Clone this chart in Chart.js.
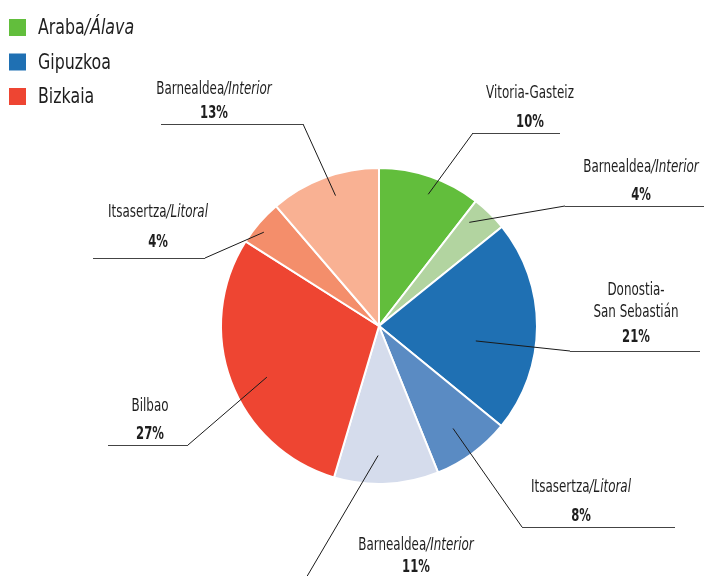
<!DOCTYPE html>
<html>
<head>
<meta charset="utf-8">
<script src="https://cdn.jsdelivr.net/npm/chart.js@4.4.0/dist/chart.umd.min.js"></script>
<style>
  html, body { margin: 0; padding: 0; background: #fff; }
  #wrap { width: 704px; height: 576px; position: relative; }
</style>
</head>
<body>
<div id="wrap"><canvas id="pie"></canvas></div>
<script>
// slices, clockwise from 12 o'clock
const categories = ['Vitoria-Gasteiz', 'Barnealdea/Interior', 'Donostia-San Sebastián', 'Itsasertza/Litoral',
                    'Barnealdea/Interior', 'Bilbao', 'Itsasertza/Litoral', 'Barnealdea/Interior'];
const shares = [10.5, 3.7, 21.7, 8.0, 10.7, 29.4, 4.7, 11.3];
const pctLabels = ['10%', '4%', '21%', '8%', '11%', '27%', '4%', '13%'];
const provinces = ['Araba/Álava', 'Gipuzkoa', 'Bizkaia'];

const sliceColors = ['#62be3c', '#b2d4a0', '#1f70b3', '#5a8bc3', '#d5dcec', '#ee4532', '#f48e6b', '#f9b193'];
const provinceColors = ['#62be3c', '#1f70b3', '#ee4532'];

const FONT = '"DejaVu Sans Condensed", "DejaVu Sans", sans-serif';
const INK = '#1e1e1e';

// where each label sits; elbow = x where leader meets underline
const labelPos = [
  { x: 530, nameY: [98], pctY: 127, ulY: 133, ul: [473, 560], elbow: 473, frac: 0.89, turn: 1.6 },
  { x: 641, nameY: [172], pctY: 200, ulY: 206, ul: [565, 704], elbow: 565, frac: 0.87, turn: -3.4 },
  { x: 636, nameY: [295, 317], pctY: 342, ulY: 351, ul: [570, 700], elbow: 570, frac: 0.62, turn: 8.6, wrap: true },
  { x: 581, nameY: [492], pctY: 521, ulY: 527, ul: [522, 675], elbow: 522, frac: 0.8, turn: 0.5 },
  { x: 416, nameY: [550], pctY: 572, ulY: 590, ul: [200, 299], elbow: 299, frac: 0.82, turn: 3.1 },
  { x: 150, nameY: [411], pctY: 439, ulY: 445, ul: [108, 188], elbow: 188, frac: 0.78, turn: -4 },
  { x: 158, nameY: [217], pctY: 247, ulY: 258, ul: [93, 205], elbow: 205, frac: 0.94, turn: -1.7 },
  { x: 214, nameY: [94], pctY: 118, ulY: 124, ul: [161, 303], elbow: 303, frac: 0.87, turn: 1.9 }
];

// "Name/Other" -> roman part + italic part
function splitItalic(text) {
  const i = text.indexOf('/');
  if (i < 0) return [[text, '']];
  return [[text.slice(0, i), ''], [text.slice(i), 'italic ']];
}

// no narrow font installed, so text is squashed horizontally by sx
function drawRich(ctx, parts, x, y, size, sx, align) {
  let w = 0;
  parts.forEach(p => {
    ctx.font = p[1] + size + 'px ' + FONT;
    w += ctx.measureText(p[0]).width * sx;
  });
  let cx = align === 'left' ? x : x - w / 2;
  ctx.textAlign = 'left';
  parts.forEach(p => {
    ctx.font = p[1] + size + 'px ' + FONT;
    ctx.save();
    ctx.translate(cx, y);
    ctx.scale(sx, 1);
    ctx.fillText(p[0], 0, 0);
    ctx.restore();
    cx += ctx.measureText(p[0]).width * sx;
  });
}

const annotations = {
  id: 'annotations',
  afterDraw(chart) {
    const ctx = chart.ctx;
    const arcs = chart.getDatasetMeta(0).data;
    ctx.save();
    ctx.fillStyle = INK;
    ctx.textBaseline = 'alphabetic';

    // legend
    provinces.forEach((name, i) => {
      const y = 19 + i * 34.5;
      ctx.fillStyle = provinceColors[i];
      ctx.fillRect(9, y, 17, 17);
      ctx.fillStyle = INK;
      drawRich(ctx, splitItalic(name), 38, y + 15, 22, 0.8, 'left');
    });

    // leaders + labels
    arcs.forEach((arc, i) => {
      const L = labelPos[i];
      const mid = (arc.startAngle + arc.endAngle) / 2 + L.turn * Math.PI / 180;
      const r = arc.outerRadius * L.frac;
      const px = arc.x + Math.cos(mid) * r;
      const py = arc.y + Math.sin(mid) * r;

      ctx.strokeStyle = '#1a1a1a';
      ctx.lineWidth = 1;
      ctx.beginPath();
      ctx.moveTo(px, py);
      ctx.lineTo(L.elbow, L.ulY);
      ctx.stroke();
      ctx.strokeStyle = '#444';
      ctx.beginPath();
      ctx.moveTo(L.ul[0], L.ulY + 0.5);
      ctx.lineTo(L.ul[1], L.ulY + 0.5);
      ctx.stroke();

      ctx.fillStyle = INK;
      const name = categories[i];
      const cut = name.indexOf('-') + 1;
      const lines = L.wrap ? [name.slice(0, cut), name.slice(cut)] : [name];
      lines.forEach((ln, j) => drawRich(ctx, splitItalic(ln), L.x, L.nameY[j], 17, 0.78, 'center'));
      drawRich(ctx, [[pctLabels[i], 'bold ']], L.x, L.pctY, 17, 0.76, 'center');
    });
    ctx.restore();
  }
};

new Chart(document.getElementById('pie'), {
  type: 'pie',
  data: {
    labels: categories,
    datasets: [{
      data: shares,
      backgroundColor: sliceColors,
      borderColor: '#ffffff',
      borderWidth: 2
    }]
  },
  options: {
    responsive: true,
    maintainAspectRatio: false,
    animation: false,
    layout: { padding: { left: 220, right: 166, top: 167, bottom: 91 } },
    plugins: {
      legend: { display: false },
      tooltip: { enabled: false }
    }
  },
  plugins: [annotations]
});
</script>
</body>
</html>
